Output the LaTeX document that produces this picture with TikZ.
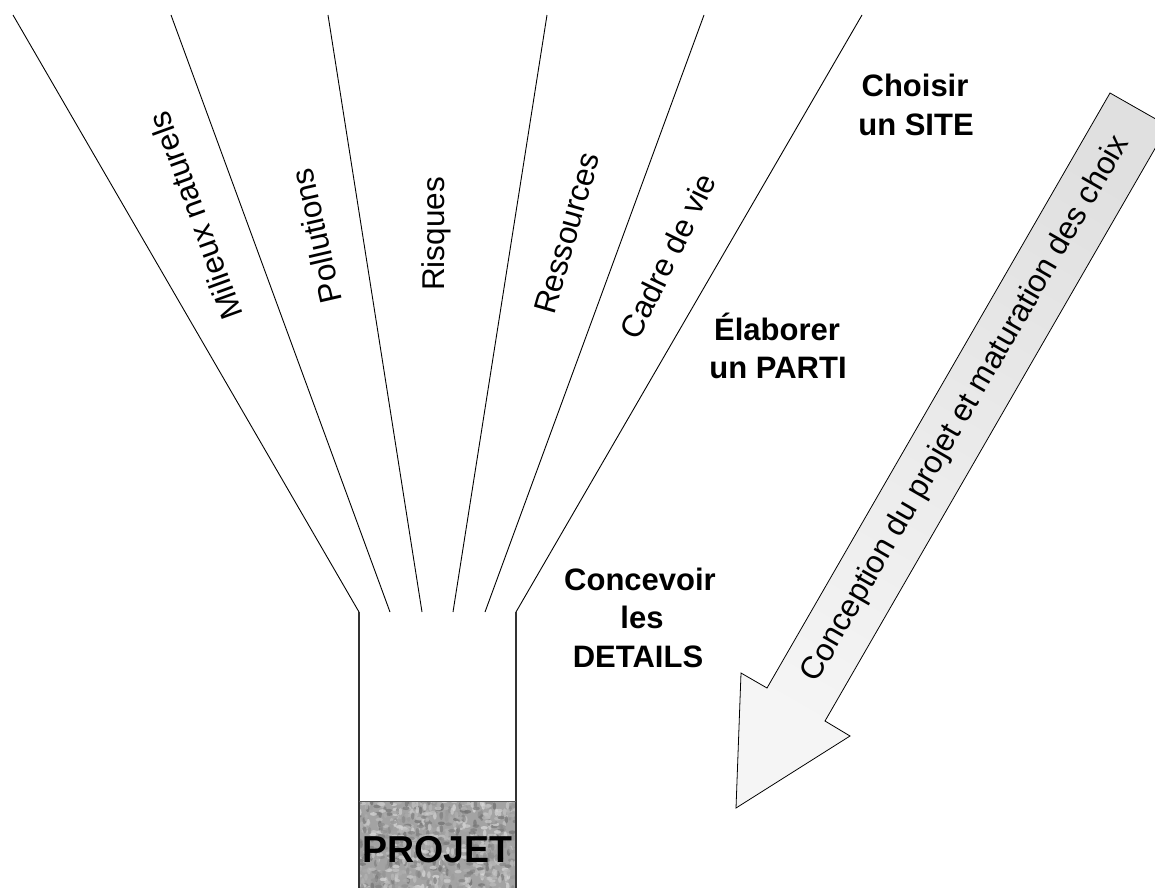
\documentclass[tikz,border=0pt]{standalone}
\usepackage{fontspec}
\setmainfont{Liberation Sans}
\begin{document}
\begin{tikzpicture}[x=1pt,y=-1pt,
  fanline/.style={line width=0.9pt, black},
  boxline/.style={line width=1.3pt, black!80},
  lab/.style={font=\fontsize{31.5}{37}\selectfont, inner sep=0pt},
  blab/.style={font=\bfseries\fontsize{31}{37}\selectfont, inner sep=0pt, anchor=base},
  bigarrow/.style={draw=black, line width=0.8pt, line join=miter,
    top color=black!12, middle color=black!33, bottom color=black!4, shading angle=-30},
]
\useasboundingbox (0,0) rectangle (1155,887);
\clip (0,0) rectangle (1155,887);
% fan coordinates
\coordinate (t1) at (13,15);  \coordinate (b1) at (359,612);
\coordinate (t2) at (171,15); \coordinate (b2) at (390,612);
\coordinate (t3) at (328,15); \coordinate (b3) at (422,612);
\coordinate (t4) at (547,15); \coordinate (b4) at (453,612);
\coordinate (t5) at (704,15); \coordinate (b5) at (485,612);
\coordinate (t6) at (862,15); \coordinate (b6) at (516,612);
\coordinate (bl) at (359,900); \coordinate (br) at (516,900);
\coordinate (ml) at (359,801); \coordinate (mr) at (516,801);
% textured base
\begin{scope}
  \clip (ml) rectangle (br);
  \fill[black!36] (ml) rectangle (br);
  \pgfmathsetseed{7}
  \foreach \i in {1,...,900}{
    \pgfmathsetmacro\xx{355+165*rnd}
    \pgfmathsetmacro\yy{797+100*rnd}
    \pgfmathsetmacro\g{14+42*rnd}
    \pgfmathsetmacro\r{90*round(rnd)}
    \fill[black!\g, opacity=0.75, rotate around={\r:(\xx,\yy)}] (\xx,\yy) ellipse (3.6 and 1.8);
  }
\end{scope}
% fan lines
\draw[fanline] (t1) -- (b1);
\draw[fanline] (t2) -- (b2);
\draw[fanline] (t3) -- (b3);
\draw[fanline] (t4) -- (b4);
\draw[fanline] (t5) -- (b5);
\draw[fanline] (t6) -- (b6);
% box
\draw[boxline] (b1) -- (bl);
\draw[boxline] (b6) -- (br);
\draw[line width=1pt, black!65] (ml) -- (mr);
% labels between lines
\node[lab, rotate=110] (milieux) at (195,216) {Milieux naturels};
\node[lab, rotate=103] (pollutions) at (316,236) {Pollutions};
\node[lab, rotate=90] (risques) at (436,234) {Risques};
\node[lab, rotate=74] (ressources) at (567,233) {Ressources};
\node[lab, rotate=64] (cadre) at (668,256) {Cadre de vie};
% bold step labels
\node[blab] (choisirA) at (915,96) {Choisir};
\node[blab] (choisirB) at (916,135) {un SITE};
\node[blab] (elabA) at (777,340) {Élaborer};
\node[blab] (elabB) at (778,378) {un PARTI};
\node[blab] (concA) at (640,590) {Concevoir};
\node[blab] (concB) at (642,628) {les};
\node[blab] (concC) at (638,667) {DETAILS};
% PROJET
\node[font=\bfseries\fontsize{37.5}{40}\selectfont, inner sep=0pt, anchor=base] (projet) at (437.5,862) {PROJET};
% big arrow
\coordinate (aA) at (1110,93);
\coordinate (aB) at (1168,126);
\coordinate (aC) at (825,721);
\coordinate (aD) at (850,736);
\coordinate (aE) at (736,808);
\coordinate (aF) at (741,673);
\coordinate (aG) at (767,688);
\draw[bigarrow] (aA) -- (aB) -- (aC) -- (aD) -- (aE) -- (aF) -- (aG) -- cycle;
\node[lab, rotate=60] (arrowtext) at (966,409) {Conception du projet et maturation des choix};
\end{tikzpicture}
\end{document}
